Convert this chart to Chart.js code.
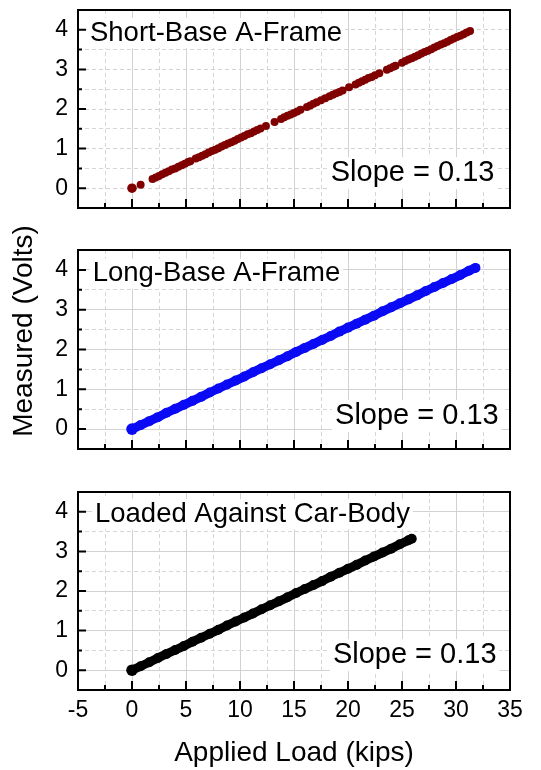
<!DOCTYPE html>
<html>
<head>
<meta charset="utf-8">
<script src="https://cdn.jsdelivr.net/npm/chart.js@4.4.1/dist/chart.umd.min.js"></script>
<style>
  body { margin: 0; background: #fff; width: 541px; height: 770px; overflow: hidden; position: relative; }
  canvas { position: absolute; left: 0; }
</style>
</head>
<body>
<canvas id="c1" width="541" height="220" style="top:0px"></canvas>
<canvas id="c2" width="541" height="250" style="top:220px"></canvas>
<canvas id="c3" width="541" height="300" style="top:470px"></canvas>
<script>
// data (kips vs volts)
const shortX = [0, 0.8, 1.9, 2.2, 2.5, 2.8, 3.1, 3.4, 3.7, 4.0, 4.3, 4.6, 4.9, 5.2, 5.4, 5.9, 6.2, 6.5, 6.8, 7.1, 7.4, 7.7, 8.0, 8.3, 8.6, 8.9, 9.2, 9.5, 9.8, 10.1, 10.4, 10.7, 11.0, 11.3, 11.6, 11.9, 12.4, 13.2, 13.8, 14.1, 14.4, 14.7, 15.0, 15.3, 15.6, 16.2, 16.5, 16.8, 17.1, 17.5, 17.9, 18.3, 18.6, 18.9, 19.2, 19.5, 20.1, 20.7, 21.0, 21.3, 21.6, 21.9, 22.2, 22.5, 22.9, 23.6, 23.9, 24.2, 24.4, 25.0, 25.3, 25.6, 25.9, 26.2, 26.5, 26.8, 27.1, 27.4, 27.7, 28.0, 28.3, 28.6, 28.9, 29.2, 29.5, 29.8, 30.1, 30.4, 30.7, 31.0, 31.3];
const shortY = [0.00, 0.09, 0.23, 0.27, 0.31, 0.35, 0.39, 0.43, 0.47, 0.50, 0.54, 0.58, 0.62, 0.66, 0.68, 0.75, 0.78, 0.82, 0.86, 0.90, 0.94, 0.97, 1.01, 1.05, 1.09, 1.13, 1.16, 1.20, 1.24, 1.28, 1.32, 1.36, 1.39, 1.43, 1.47, 1.51, 1.57, 1.67, 1.75, 1.79, 1.83, 1.86, 1.90, 1.94, 1.98, 2.05, 2.09, 2.13, 2.17, 2.22, 2.27, 2.32, 2.36, 2.40, 2.43, 2.47, 2.55, 2.62, 2.66, 2.70, 2.74, 2.78, 2.81, 2.85, 2.90, 2.99, 3.03, 3.07, 3.09, 3.17, 3.21, 3.25, 3.28, 3.32, 3.36, 3.40, 3.44, 3.47, 3.51, 3.55, 3.59, 3.63, 3.66, 3.70, 3.74, 3.78, 3.82, 3.85, 3.89, 3.93, 3.97];

const longX = [0, 0.8, 1.6, 2.4, 3.2, 4.0, 4.8, 5.6, 6.4, 7.2, 8.0, 8.8, 9.6, 10.4, 11.2, 12.0, 12.8, 13.6, 14.4, 15.2, 16.0, 16.8, 17.6, 18.4, 19.2, 20.0, 20.8, 21.6, 22.4, 23.2, 24.0, 24.8, 25.6, 26.4, 27.2, 28.0, 28.8, 29.6, 30.4, 31.2, 31.8];
const longY = [0.00, 0.10, 0.20, 0.30, 0.41, 0.51, 0.61, 0.71, 0.81, 0.92, 1.02, 1.12, 1.22, 1.32, 1.43, 1.53, 1.63, 1.73, 1.83, 1.94, 2.04, 2.14, 2.24, 2.34, 2.45, 2.55, 2.65, 2.75, 2.85, 2.96, 3.06, 3.16, 3.26, 3.36, 3.47, 3.57, 3.67, 3.77, 3.87, 3.98, 4.05];

const bodyX = [0, 0.8, 1.6, 2.4, 3.2, 4.0, 4.8, 5.6, 6.4, 7.2, 8.0, 8.8, 9.6, 10.4, 11.2, 12.0, 12.8, 13.6, 14.4, 15.2, 16.0, 16.8, 17.6, 18.4, 19.2, 20.0, 20.8, 21.6, 22.4, 23.2, 24.0, 24.8, 25.6, 25.9];
const bodyY = [0.00, 0.10, 0.20, 0.31, 0.41, 0.51, 0.61, 0.72, 0.82, 0.92, 1.02, 1.13, 1.23, 1.33, 1.43, 1.54, 1.64, 1.74, 1.84, 1.95, 2.05, 2.15, 2.25, 2.36, 2.46, 2.56, 2.66, 2.77, 2.87, 2.97, 3.07, 3.18, 3.28, 3.32];

const panelNames = ["Short-Base A-Frame", "Long-Base A-Frame", "Loaded Against Car-Body"];
const slopeText = "Slope = 0.13";
const xMajorTicks = [-5, 0, 5, 10, 15, 20, 25, 30, 35];
const yMajorTicks = [0, 1, 2, 3, 4];
const xTitle = "Applied Load (kips)";
const yTitle = "Measured (Volts)";

Chart.defaults.font.family = "'Liberation Sans', Arial, sans-serif";
Chart.defaults.color = "#000";

const isMajorX = v => xMajorTicks.some(t => Math.abs(t - v) < 1e-6);
const isMajorY = v => yMajorTicks.some(t => Math.abs(t - v) < 1e-6);

function textBox(ctx, text, px, py, size) {
  ctx.font = size + "px 'Liberation Sans', Arial, sans-serif";
  const w = ctx.measureText(text).width;
  ctx.fillStyle = "#fff";
  ctx.fillRect(px - 3, py - size * 0.55, w + 6, size * 1.1);
  ctx.fillStyle = "#000";
  ctx.textAlign = "left";
  ctx.textBaseline = "middle";
  ctx.fillText(text, px, py);
}

// no extra room for the end labels, plot box is set by layout padding
function noPad(s) {
  s.paddingTop = 0;
  s.paddingBottom = 0;
  s.paddingLeft = 0;
  s.paddingRight = 0;
}

// frame, inner ticks and the panel texts
const deco = {
  id: "panelDeco",
  afterDraw(chart, args, o) {
    const { ctx, chartArea: a, scales: { x, y } } = chart;
    ctx.save();
    textBox(ctx, o.name, x.getPixelForValue(o.nameAt[0]), y.getPixelForValue(o.nameAt[1]), 27.5);
    textBox(ctx, slopeText, x.getPixelForValue(o.slopeAt[0]), y.getPixelForValue(o.slopeAt[1]), 29);

    ctx.strokeStyle = "#000";
    ctx.lineWidth = 2;
    ctx.beginPath();
    x.ticks.forEach(t => {
      const px = x.getPixelForValue(t.value);
      ctx.moveTo(px, a.bottom);
      ctx.lineTo(px, a.bottom - (isMajorX(t.value) ? 9 : 5));
    });
    y.ticks.forEach(t => {
      const py = y.getPixelForValue(t.value);
      ctx.moveTo(a.left, py);
      ctx.lineTo(a.left + (isMajorY(t.value) ? 8 : 4), py);
    });
    ctx.stroke();
    ctx.strokeRect(a.left, a.top, a.right - a.left, a.bottom - a.top);

    if (o.yTitle) {
      ctx.translate(o.yTitle.x, o.yTitle.y);
      ctx.rotate(-Math.PI / 2);
      ctx.font = "28px 'Liberation Sans', Arial, sans-serif";
      ctx.textAlign = "center";
      ctx.textBaseline = "middle";
      ctx.fillStyle = "#000";
      ctx.fillText(yTitle, 0, 0);
    }
    ctx.restore();
  }
};

function makePanel(id, xs, ys, color, opt) {
  const pts = xs.map((v, i) => ({ x: v, y: ys[i] }));
  return new Chart(document.getElementById(id), {
    type: "scatter",
    data: {
      datasets: [{
        data: pts,
        backgroundColor: color,
        borderColor: color,
        pointRadius: c => (c.dataIndex === 0 ? opt.radius + 0.8 : opt.radius),
        pointBorderWidth: 0,
        showLine: opt.line,
        borderWidth: opt.lineWidth,
        borderCapStyle: "round",
        borderJoinStyle: "round"
      }]
    },
    options: {
      responsive: false,
      animation: false,
      layout: { padding: { top: opt.top, right: 31, left: 0, bottom: 0 } },
      plugins: {
        legend: { display: false },
        tooltip: { enabled: false },
        panelDeco: opt.deco
      },
      scales: {
        x: {
          type: "linear",
          min: -5,
          max: 35,
          ticks: {
            stepSize: 2.5,
            display: opt.showX,
            autoSkip: false,
            maxRotation: 0,
            padding: 7,
            font: { size: 23 },
            callback: v => (isMajorX(v) ? String(v) : "")
          },
          grid: {
            drawTicks: false,
            color: c => (c.tick && isMajorX(c.tick.value) ? "#d2d2d2" : "#d6d6d6"),
            lineWidth: 1
          },
          border: {
            display: false,
            dash: c => (c.tick && !isMajorX(c.tick.value) ? [4, 3] : [])
          },
          title: { display: opt.showX, text: xTitle, font: { size: 28 }, padding: 0 },
          afterFit: s => { s.height = opt.xh; noPad(s); }
        },
        y: {
          type: "linear",
          min: -0.5,
          max: 4.5,
          ticks: {
            stepSize: 0.5,
            autoSkip: false,
            padding: 10,
            font: { size: 23 },
            callback: v => (isMajorY(v) ? String(v) : "")
          },
          grid: {
            drawTicks: false,
            color: c => (c.tick && isMajorY(c.tick.value) ? "#d2d2d2" : "#d6d6d6"),
            lineWidth: 1
          },
          border: {
            display: false,
            dash: c => (c.tick && (opt.yAllDashed || !isMajorY(c.tick.value)) ? [4, 3] : [])
          },
          afterFit: s => { s.width = 78; noPad(s); }
        }
      }
    },
    plugins: [deco]
  });
}

makePanel("c1", shortX, shortY, "#800000", {
  radius: 4, line: false, lineWidth: 0, top: 10, xh: 12, showX: false, yAllDashed: true,
  deco: { name: panelNames[0], nameAt: [-3.89, 3.92], slopeAt: [18.4, 0.38] }
});
makePanel("c2", longX, longY, "#0a0af5", {
  radius: 5, line: true, lineWidth: 9, top: 30, xh: 21, showX: false,
  deco: { name: panelNames[1], nameAt: [-3.64, 3.9], slopeAt: [18.8, 0.33], yTitle: { x: 24, y: 111 } }
});
makePanel("c3", bodyX, bodyY, "#000000", {
  radius: 5, line: true, lineWidth: 9, top: 22, xh: 80, showX: true,
  deco: { name: panelNames[2], nameAt: [-3.43, 3.94], slopeAt: [18.6, 0.38] }
});
</script>
</body>
</html>
